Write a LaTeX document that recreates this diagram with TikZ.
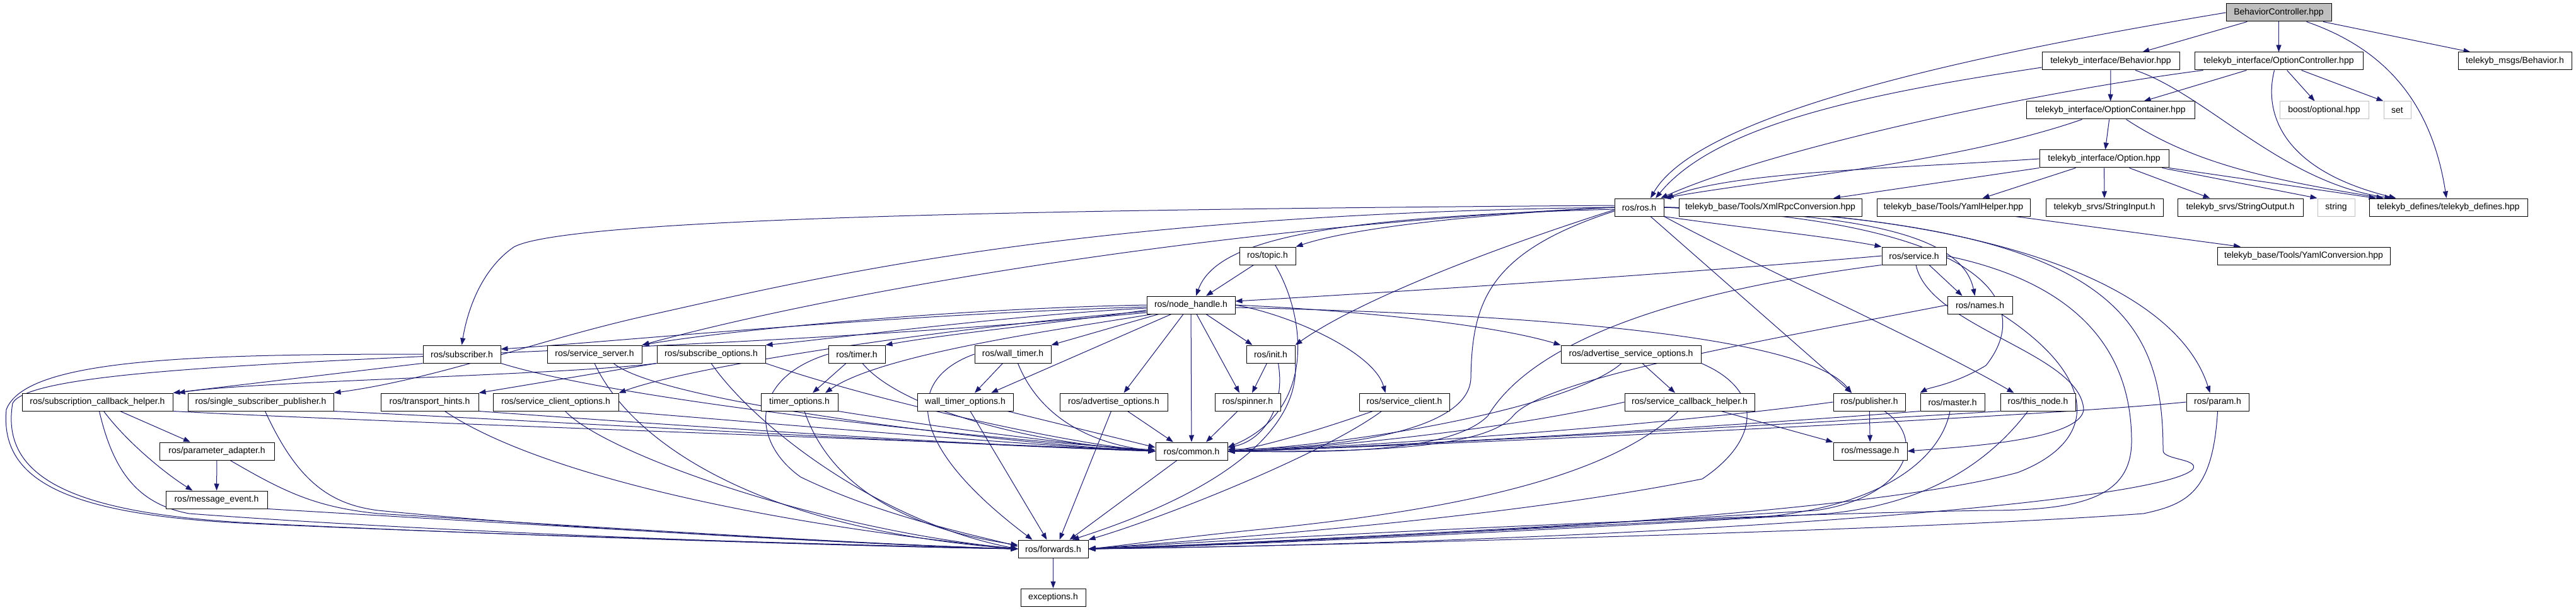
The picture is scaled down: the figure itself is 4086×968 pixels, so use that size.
\documentclass[tikz,border=0pt]{standalone}
\usepackage{fontspec}
\setmainfont{Liberation Sans}
\usetikzlibrary{arrows.meta}
\definecolor{edgecol}{HTML}{191970}
\definecolor{bcfill}{HTML}{BFBFBF}
\pgfdeclarelayer{edgelayer}
\pgfsetlayers{edgelayer,main}
\newcommand\nodefont{\fontsize{14}{16}\selectfont}
\tikzset{
  box/.style={draw=black, fill=white, line width=1pt, minimum height=28pt, inner sep=0pt, font=\nodefont},
  gbox/.style={box, draw=bcfill},
  e/.style={draw=edgecol, line width=1pt, -{Triangle[length=11pt,width=8pt]}},
}
\begin{document}
\begin{tikzpicture}[x=1pt,y=-1pt]
\useasboundingbox (0,0) rectangle (4086,968);
% ---------- nodes ----------
\node[box, fill=bcfill, minimum width=167pt] (BC) at (3614.5,20) {BehaviorController.hpp};
\node[box, minimum width=218pt] (tiB) at (3348,97) {telekyb\_interface/Behavior.hpp};
\node[box, minimum width=267pt] (tiOC) at (3614.5,97) {telekyb\_interface/OptionController.hpp};
\node[box, minimum width=180pt] (tmB) at (3989,97) {telekyb\_msgs/Behavior.h};
\node[box, minimum width=267pt] (tiOCont) at (3347.5,175) {telekyb\_interface/OptionContainer.hpp};
\node[gbox, minimum width=141pt] (boost) at (3686.5,175) {boost/optional.hpp};
\node[gbox, minimum width=43pt] (set) at (3802.5,175) {set};
\node[box, minimum width=205pt] (tiO) at (3337.5,252) {telekyb\_interface/Option.hpp};
\node[box, minimum width=78pt] (ros) at (2600,329) {ros/ros.h};
\node[box, minimum width=290pt] (xmlrpc) at (2808,329) {telekyb\_base/Tools/XmlRpcConversion.hpp};
\node[box, minimum width=243pt] (yamlh) at (3098.5,329) {telekyb\_base/Tools/YamlHelper.hpp};
\node[box, minimum width=186pt] (sin) at (3338,329) {telekyb\_srvs/StringInput.h};
\node[box, minimum width=199pt] (sout) at (3553.5,329) {telekyb\_srvs/StringOutput.h};
\node[gbox, minimum width=59pt] (string) at (3705.5,329) {string};
\node[box, minimum width=251pt] (tdef) at (3883.5,329) {telekyb\_defines/telekyb\_defines.hpp};
\node[box, minimum width=89pt] (topic) at (2010.5,406) {ros/topic.h};
\node[box, minimum width=102pt] (service) at (3036,406) {ros/service.h};
\node[box, minimum width=274pt] (yamlc) at (3654,406) {telekyb\_base/Tools/YamlConversion.hpp};
\node[box, minimum width=140pt] (nh) at (1889,484) {ros/node\_handle.h};
\node[box, minimum width=103pt] (names) at (3140.5,484) {ros/names.h};
\node[box, minimum width=123pt] (subscriber) at (732.5,562) {ros/subscriber.h};
\node[box, minimum width=150pt] (sserver) at (943,562) {ros/service\_server.h};
\node[box, minimum width=172pt] (subopts) at (1128,562) {ros/subscribe\_options.h};
\node[box, minimum width=90pt] (timer) at (1359,562) {ros/timer.h};
\node[box, minimum width=121pt] (wtimer) at (1606.5,562) {ros/wall\_timer.h};
\node[box, minimum width=77pt] (init) at (2015.5,562) {ros/init.h};
\node[box, minimum width=222pt] (aso) at (2587,562) {ros/advertise\_service\_options.h};
\node[box, minimum width=239pt] (sch) at (154.5,638) {ros/subscription\_callback\_helper.h};
\node[box, minimum width=231pt] (ssp) at (413.5,638) {ros/single\_subscriber\_publisher.h};
\node[box, minimum width=155pt] (th) at (681.5,638) {ros/transport\_hints.h};
\node[box, minimum width=199pt] (sco) at (881.5,638) {ros/service\_client\_options.h};
\node[box, minimum width=122pt] (topts) at (1268,638) {timer\_options.h};
\node[box, minimum width=152pt] (wtopts) at (1531,638) {wall\_timer\_options.h};
\node[box, minimum width=171pt] (aopts) at (1766.5,638) {ros/advertise\_options.h};
\node[box, minimum width=104pt] (spinner) at (1979,638) {ros/spinner.h};
\node[box, minimum width=143pt] (sclient) at (2227.5,638) {ros/service\_client.h};
\node[box, minimum width=206pt] (scbh) at (2680,638) {ros/service\_callback\_helper.h};
\node[box, minimum width=114pt] (publisher) at (2965,638) {ros/publisher.h};
\node[box, minimum width=102pt] (master) at (3097,638) {ros/master.h};
\node[box, minimum width=119pt] (thisnode) at (3232.5,638) {ros/this\_node.h};
\node[box, minimum width=99pt] (param) at (3517.5,638) {ros/param.h};
\node[box, minimum width=182pt] (padapter) at (344,716) {ros/parameter\_adapter.h};
\node[box, minimum width=114pt] (common) at (1890,716) {ros/common.h};
\node[box, minimum width=117pt] (message) at (2966.5,716) {ros/message.h};
\node[box, minimum width=161pt] (mevent) at (343.5,793) {ros/message\_event.h};
\node[box, minimum width=111pt] (forwards) at (1670.5,871) {ros/forwards.h};
\node[box, minimum width=103pt] (exceptions) at (1670.5,948) {exceptions.h};
\begin{pgfonlayer}{edgelayer}
\fill[white] (0,0) rectangle (4086,968);
% ---------- top group ----------
\draw[e] (BC) -- (tiB);
\draw[e] (BC) -- (tiOC);
\draw[e] (BC) -- (tmB);
\draw[e] ([xshift=44pt]BC.south) .. controls (3790,80) and (3858,170) .. ([xshift=-3pt]tdef.north);
\draw[e] (BC.west) .. controls (3200,75) and (2700,170) .. ([xshift=18pt]ros.north);
\draw[e] ([yshift=-10pt]tiB.west) .. controls (2950,150) and (2720,200) .. ([xshift=26pt]ros.north);
\draw[e] ([xshift=-120pt]tiOC.south) .. controls (3200,150) and (2800,240) .. ([xshift=34pt]ros.north);
\draw[e] ([xshift=-45pt]tiOCont.south) .. controls (3100,260) and (2800,285) .. (ros.north east);
\draw[e] (tiO.west) .. controls (3000,268) and (2750,272) .. ([xshift=4pt]ros.north east);
\draw[e] (tiO.south west) -- ([xshift=100pt]xmlrpc.north);
\draw[e] ([xshift=-45pt]tiO.south) -- ([xshift=46pt]yamlh.north);
\draw[e] (tiO) -- (sin);
\draw[e] ([xshift=40pt]tiO.south) -- ([xshift=-48pt]sout.north);
\draw[e] ([xshift=92pt]tiO.south) -- (string.north west);
\draw[e] (tiO.south east) -- ([xshift=-115pt]tdef.north);
\draw[e] ([xshift=25pt]tiOCont.south) .. controls (3480,260) and (3600,285) .. ([xshift=-103pt]tdef.north);
\draw[e] ([xshift=39pt]tiB.south) .. controls (3500,150) and (3620,290) .. ([xshift=-90pt]tdef.north);
\draw[e] ([xshift=-7pt]tiOC.south) .. controls (3590,180) and (3620,270) .. ([xshift=-83pt]tdef.north);
\draw[e] ([xshift=13pt]tiOC.south) -- ([xshift=-15pt]boost.north);
\draw[e] ([xshift=36pt]tiOC.south) -- (set.north west);
\draw[e] ([xshift=-51pt]tiOC.south) -- ([xshift=53pt]tiOCont.north);
\draw[e] (tiB) -- (tiOCont);
\draw[e] (tiOCont) -- (tiO);
\draw[e] ([xshift=98pt]yamlh.south) -- ([xshift=-100pt]yamlc.north);
% ---------- ros/ros.h ----------
\draw[e] (ros.west) .. controls (2350,340) and (2150,360) .. (topic.north east);
\draw[e] ([yshift=-3pt]ros.west) .. controls (2100,345) and (1930,380) .. ([xshift=8pt]nh.north);
\draw[e] ([yshift=3pt]ros.west) .. controls (1700,332) and (900,345) .. (815,392) .. controls (760,430) and (740,500) .. (subscriber.north);
\draw[e] (ros.west) .. controls (1900,360) and (1300,470) .. (sserver.north east);
\draw[e] (ros.west) .. controls (1700,340) and (1300,440) .. (1030,500) .. controls (850,540) and (700,600) .. (ssp.north east);
\draw[e] ([yshift=-4pt]ros.west) .. controls (2350,400) and (2150,480) .. (init.north east);
\draw[e] ([yshift=-6pt]ros.west) .. controls (2360,400) and (2335,480) .. (2333,600) .. controls (2330,690) and (2100,712) .. ([yshift=3pt]common.east);
\draw[e] ([xshift=18pt]ros.south) -- ([xshift=-28pt]publisher.north);
\draw[e] (ros.south east) .. controls (2800,430) and (3050,540) .. ([xshift=-38pt]thisnode.north);
\draw[e] (ros.south east) .. controls (2750,360) and (2900,375) .. (service.north west);
\draw[e] (ros.east) .. controls (2900,340) and (3110,360) .. ([xshift=-8pt]names.north);
\draw[e] (ros.east) .. controls (3150,335) and (3450,450) .. ([xshift=-12pt]param.north);
\draw[e] (ros.east) .. controls (3150,350) and (3230,480) .. (3150,580) .. controls (3100,610) and (3060,615) .. (master.north west);
\draw[e] (ros.east) .. controls (3350,345) and (3431,500) .. (3431,715) .. controls (3431,730) and (3490,728) .. (3478,745) .. controls (3420,800) and (2600,860) .. (forwards.east);
% ---------- node_handle ----------
\draw[e] ([yshift=-3pt]nh.west) .. controls (1400,500) and (1000,540) .. ([yshift=8pt]subscriber.east);
\draw[e] (nh.west) .. controls (1500,490) and (1150,525) .. (sserver.north east);
\draw[e] ([yshift=-5pt]nh.west) .. controls (1600,500) and (1300,540) .. (subopts.north east);
\draw[e] ([yshift=-8pt]nh.west) .. controls (1700,510) and (1500,530) .. (timer.north east);
\draw[e] ([xshift=-51pt]nh.south) -- (wtimer.north east);
\draw[e] ([xshift=24pt]nh.south) -- ([xshift=-29pt]init.north);
\draw[e] ([xshift=9pt]nh.south) -- ([xshift=-13pt]spinner.north);
\draw[e] ([xshift=-12pt]nh.south) -- ([xshift=16pt]aopts.north);
\draw[e] (nh) -- (common);
\draw[e] ([xshift=-31pt]nh.south) -- ([xshift=41pt]wtopts.north);
\draw[e] ([xshift=-61pt]nh.south) .. controls (1700,520) and (1400,560) .. ([xshift=41pt]topts.north);
\draw[e] ([yshift=-10pt]nh.west) .. controls (1500,520) and (1100,580) .. (sco.north east);
\draw[e] (nh.east) .. controls (2050,500) and (2180,560) .. ([xshift=-30pt]sclient.north);
\draw[e] (nh.east) .. controls (2100,490) and (2350,510) .. (aso.north west);
\draw[e] ([yshift=-4pt]nh.east) .. controls (2500,500) and (2870,540) .. ([xshift=-28pt]publisher.north);
\draw[e] ([yshift=-12pt]nh.west) .. controls (1000,575) and (60,560) .. (20,640) .. controls (0,760) and (120,815) .. (400,830) .. controls (800,850) and (1400,868) .. (forwards.west);
% ---------- topic, service, names ----------
\draw[e] ([xshift=-22pt]topic.south) -- ([xshift=24pt]nh.north);
\draw[e] ([xshift=12pt]topic.south) .. controls (2070,500) and (2090,650) .. ([yshift=6pt]common.east);
\draw[e] (service.west) .. controls (2600,440) and (2100,470) .. ([yshift=6pt]nh.east);
\draw[e] ([xshift=24pt]service.south) -- ([xshift=-28pt]names.north);
\draw[e] (service.south west) .. controls (2600,470) and (2420,560) .. (2360,660) .. controls (2300,720) and (2100,718) .. (common.east);
\draw[e] (service.east) .. controls (3300,450) and (3381,560) .. (3381,700) .. controls (3381,790) and (3300,810) .. (3150,810) .. controls (2600,820) and (1900,860) .. (forwards.east);
\draw[e] ([xshift=3pt]service.south) .. controls (3060,520) and (3300,560) .. (3305,650) .. controls (3300,700) and (3100,710) .. (message.east);
\draw[e] (names.west) .. controls (2800,540) and (2450,600) .. (2400,660) .. controls (2350,720) and (2100,716) .. (common.east);
\draw[e] ([xshift=34pt]names.south) .. controls (3330,600) and (3330,700) .. (3200,750) .. controls (2900,830) and (2000,860) .. (forwards.east);
% ---------- left part ----------
\draw[e] (subscriber.south west) -- (sch.north east);
\draw[e] (subscriber.south east) .. controls (1000,640) and (1600,700) .. ([yshift=2pt]common.west);
\draw[e] (subscriber.west) .. controls (300,562) and (40,570) .. (10,650) .. controls (0,760) and (100,815) .. (380,830) .. controls (800,850) and (1400,866) .. (forwards.west);
\draw[e] ([xshift=30pt]sserver.south) .. controls (1050,640) and (1600,705) .. (common.west);
\draw[e] (sserver.south) .. controls (1000,700) and (1200,840) .. (forwards.west);
\draw[e] (subopts.south west) -- (th.north east);
\draw[e] (subopts.south west) .. controls (900,595) and (400,605) .. ([xshift=8pt]sch.north east);
\draw[e] (subopts.south) .. controls (1200,680) and (1400,830) .. (forwards.west);
\draw[e] (subopts.south east) .. controls (1400,640) and (1700,705) .. (common.west);
\draw[e] ([xshift=-17pt]timer.south) -- ([xshift=21pt]topts.north);
\draw[e] ([xshift=9pt]timer.south) .. controls (1420,640) and (1600,700) .. (common.west);
\draw[e] (timer.west) .. controls (1190,600) and (1190,700) .. (1270,757) .. controls (1400,820) and (1550,850) .. ([yshift=4pt]forwards.west);
\draw[e] ([xshift=-16pt]wtimer.south) -- ([xshift=15pt]wtopts.north);
\draw[e] ([xshift=8pt]wtimer.south) .. controls (1640,640) and (1700,700) .. (common.west);
\draw[e] (wtimer.west) .. controls (1440,600) and (1430,700) .. ([xshift=-33pt]forwards.north);
\draw[e] ([xshift=-6pt]init.south) -- ([xshift=7pt]spinner.north);
\draw[e] ([xshift=12pt]init.south) .. controls (2040,650) and (2000,700) .. ([yshift=6pt]common.east);
\draw[e] (init.south east) .. controls (2060,650) and (2000,760) .. ([xshift=30pt]forwards.north);
\draw[e] ([xshift=18pt]aso.south) -- ([xshift=-23pt]scbh.north);
\draw[e] ([xshift=-15pt]aso.south) .. controls (2500,640) and (2200,700) .. (common.east);
\draw[e] (aso.south east) .. controls (2800,620) and (2790,700) .. (2700,760) .. controls (2400,820) and (2000,850) .. (forwards.east);
\draw[e] ([xshift=36pt]sch.south) -- ([xshift=-42pt]padapter.north);
\draw[e] ([xshift=10pt]sch.south) .. controls (200,700) and (260,750) .. ([xshift=-38pt]mevent.north);
\draw[e] ([xshift=3pt]sch.south) .. controls (180,750) and (220,800) .. (300,815) .. controls (700,845) and (1300,866) .. (forwards.west);
\draw[e] (sch.south east) .. controls (600,670) and (1500,700) .. (common.west);
\draw[e] (ssp.south east) .. controls (800,665) and (1500,705) .. (common.west);
\draw[e] ([xshift=7pt]ssp.south) .. controls (470,760) and (520,800) .. (600,810) .. controls (900,840) and (1400,865) .. (forwards.west);
\draw[e] (th.south east) .. controls (1000,670) and (1500,705) .. (common.west);
\draw[e] ([xshift=24pt]th.south) .. controls (850,750) and (1200,830) .. (forwards.west);
\draw[e] (sco.south east) .. controls (1200,670) and (1600,705) .. (common.west);
\draw[e] ([xshift=15pt]sco.south) .. controls (960,720) and (1300,840) .. (forwards.west);
\draw[e] (padapter) -- (mevent);
\draw[e] ([xshift=21pt]padapter.south) .. controls (450,780) and (500,805) .. (600,815) .. controls (1000,840) and (1400,865) .. (forwards.west);
\draw[e] (mevent.south east) .. controls (800,830) and (1400,866) .. (forwards.west);
\draw[e] (topts.south east) .. controls (1500,680) and (1700,705) .. (common.west);
\draw[e] ([xshift=8pt]topts.south) .. controls (1320,780) and (1450,840) .. ([yshift=6pt]forwards.west);
\draw[e] ([xshift=8pt]wtopts.south) -- ([xshift=-10pt]forwards.north);
\draw[e] ([xshift=67pt]wtopts.south) -- ([yshift=6pt]common.west);
\draw[e] ([xshift=22pt]aopts.south) -- ([xshift=-29pt]common.north);
\draw[e] ([xshift=-4pt]aopts.south) -- ([xshift=10pt]forwards.north);
\draw[e] ([xshift=-16pt]spinner.south) -- ([xshift=23pt]common.north);
\draw[e] ([xshift=-23pt]common.south) -- ([xshift=26pt]forwards.north);
\draw[e] (forwards) -- (exceptions);
% ---------- right part ----------
\draw[e] ([xshift=-50pt]sclient.south) .. controls (2100,680) and (2000,710) .. (common.east);
\draw[e] ([xshift=-36pt]sclient.south) .. controls (2100,720) and (1850,820) .. (forwards.north east);
\draw[e] (scbh.west) .. controls (2400,680) and (2100,712) .. (common.east);
\draw[e] ([xshift=-18pt]scbh.south) .. controls (2550,760) and (2300,810) .. (2000,840) .. controls (1850,855) and (1780,866) .. (forwards.east);
\draw[e] ([xshift=50pt]scbh.south) -- (message.north west);
\draw[e] (publisher) -- (message);
\draw[e] (publisher.west) .. controls (2600,680) and (2100,712) .. (common.east);
\draw[e] ([xshift=24pt]publisher.south) .. controls (3060,700) and (3020,790) .. (2880,810) .. controls (2400,840) and (1900,866) .. (forwards.east);
\draw[e] (master.south west) .. controls (2700,680) and (2100,714) .. (common.east);
\draw[e] ([xshift=-4pt]master.south) .. controls (3080,720) and (3000,800) .. (2800,820) .. controls (2300,845) and (1900,868) .. (forwards.east);
\draw[e] (thisnode.south west) .. controls (2900,670) and (2100,714) .. (common.east);
\draw[e] ([xshift=-16pt]thisnode.south) .. controls (3150,740) and (3050,800) .. (2900,815) .. controls (2400,845) and (1900,868) .. (forwards.east);
\draw[e] (param.west) .. controls (3200,665) and (2100,714) .. (common.east);
\draw[e] (param.south) .. controls (3510,780) and (3470,800) .. (3400,815) .. controls (3000,845) and (1900,870) .. (forwards.east);
\end{pgfonlayer}
\end{tikzpicture}
\end{document}
